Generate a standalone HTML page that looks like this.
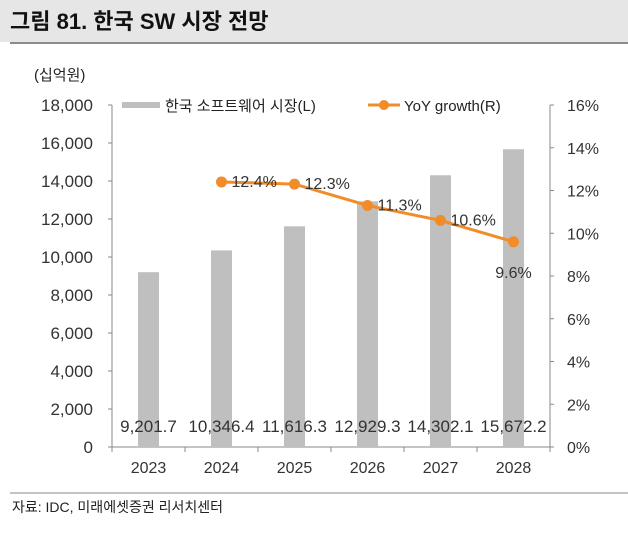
<!DOCTYPE html>
<html><head><meta charset="utf-8"><style>
body{margin:0;background:#fff;font-family:"Liberation Sans","Noto Sans CJK KR",sans-serif;}
</style></head><body>
<svg width="628" height="528" viewBox="0 0 628 528" xmlns="http://www.w3.org/2000/svg" font-family="Liberation Sans, Noto Sans CJK KR, sans-serif">
<rect x="0" y="0" width="628" height="42" fill="#e6e6e6"/>
<rect x="10" y="42" width="618" height="2" fill="#8c8c8c"/>
<text x="10" y="29" font-size="22" font-weight="bold" fill="#111">그림 81. 한국 SW 시장 전망</text>
<text x="34" y="80" font-size="15" fill="#222">(십억원)</text>
<g id="axes"></g>
<g id="bars"></g>
<g id="line"></g>
<g>
<rect x="122" y="102" width="38" height="6" fill="#bfbfbf"/>
<text x="165" y="111" font-size="15" fill="#222">한국 소프트웨어 시장(L)</text>
<line x1="368" y1="105" x2="400" y2="105" stroke="#f28c28" stroke-width="3"/>
<circle cx="384" cy="105" r="5" fill="#f28c28"/>
<text x="404" y="111" font-size="15" fill="#222">YoY growth(R)</text>
</g>
<line x1="10" y1="493" x2="628" y2="493" stroke="#888" stroke-width="1"/>
<text x="12" y="512" font-size="14" fill="#222">자료: IDC, 미래에셋증권 리서치센터</text>
</svg>
<script>
const categories=["2023","2024","2025","2026","2027","2028"];
const marketValues=[9201.7,10346.4,11616.3,12929.3,14302.1,15672.2];
const marketLabels=["9,201.7","10,346.4","11,616.3","12,929.3","14,302.1","15,672.2"];
const growthValues=[null,12.4,12.3,11.3,10.6,9.6];
const growthLabels=["","12.4%","12.3%","11.3%","10.6%","9.6%"];
const leftTicks=[0,2000,4000,6000,8000,10000,12000,14000,16000,18000];
const rightTicks=[0,2,4,6,8,10,12,14,16];
const NS="http://www.w3.org/2000/svg";
const X0=112,X1=550,Y0=447,Y1=105;
const band=(X1-X0)/categories.length;
const xc=i=>X0+band*(i+0.5);
const yL=v=>Y0-(v/18000)*(Y0-Y1);
const yR=v=>Y0-(v/16)*(Y0-Y1);
function mk(tag,attrs,parent,txt){const e=document.createElementNS(NS,tag);for(const k in attrs)e.setAttribute(k,attrs[k]);if(txt!==undefined)e.textContent=txt;parent.appendChild(e);return e;}
const axes=document.getElementById('axes'),bars=document.getElementById('bars'),line=document.getElementById('line');
let e;
e=mk('line',{x1:X0,y1:Y1,x2:X0,y2:Y0,stroke:'#888'},axes);


e=mk('line',{x1:X0,y1:Y0,x2:X1,y2:Y0,stroke:'#888'},axes);


e=mk('line',{x1:X1,y1:Y1,x2:X1,y2:Y0,stroke:'#888'},axes);


leftTicks.forEach(t=>{const y=yL(t);mk('line',{x1:X0-4,y1:y,x2:X0,y2:y,stroke:'#888'},axes);
e=mk('text',{x:93,y:y+6,'font-size':17,'text-anchor':'end',fill:'#333'},axes,t.toLocaleString('en-US'));

});
rightTicks.forEach(t=>{const y=yR(t);mk('line',{x1:X1,y1:y,x2:X1+4,y2:y,stroke:'#888'},axes);
e=mk('text',{x:567,y:y+6,'font-size':16,fill:'#333'},axes,t+'%');

});
for(let i=0;i<=categories.length;i++){const x=X0+band*i;mk('line',{x1:x,y1:Y0,x2:x,y2:Y0+5,stroke:'#888'},axes);}
categories.forEach((c,i)=>{
e=mk('text',{x:xc(i),y:473,'font-size':16,'text-anchor':'middle',fill:'#333'},axes,c);


const v=marketValues[i];
e=mk('rect',{x:xc(i)-10.5,y:yL(v),width:21,height:Y0-yL(v),fill:'#bfbfbf'},bars);


e=mk('text',{x:xc(i),y:432,'font-size':17,'text-anchor':'middle',fill:'#333'},bars,marketLabels[i]);


});
const pts=[];growthValues.forEach((v,i)=>{if(v!==null)pts.push([xc(i),yR(v),i]);});
e=mk('polyline',{points:pts.map(p=>p[0]+','+p[1]).join(' '),fill:'none',stroke:'#f28c28','stroke-width':3},line);


pts.forEach((p,k)=>{
e=mk('circle',{cx:p[0],cy:p[1],r:5.5,fill:'#f28c28'},line);


const last=k===pts.length-1;
e=mk('text',{x:last?p[0]:p[0]+10,y:last?p[1]+36:p[1]+5,'font-size':16,'text-anchor':last?'middle':'start',fill:'#333'},line,growthLabels[p[2]]);


});
</script>
</body></html>
